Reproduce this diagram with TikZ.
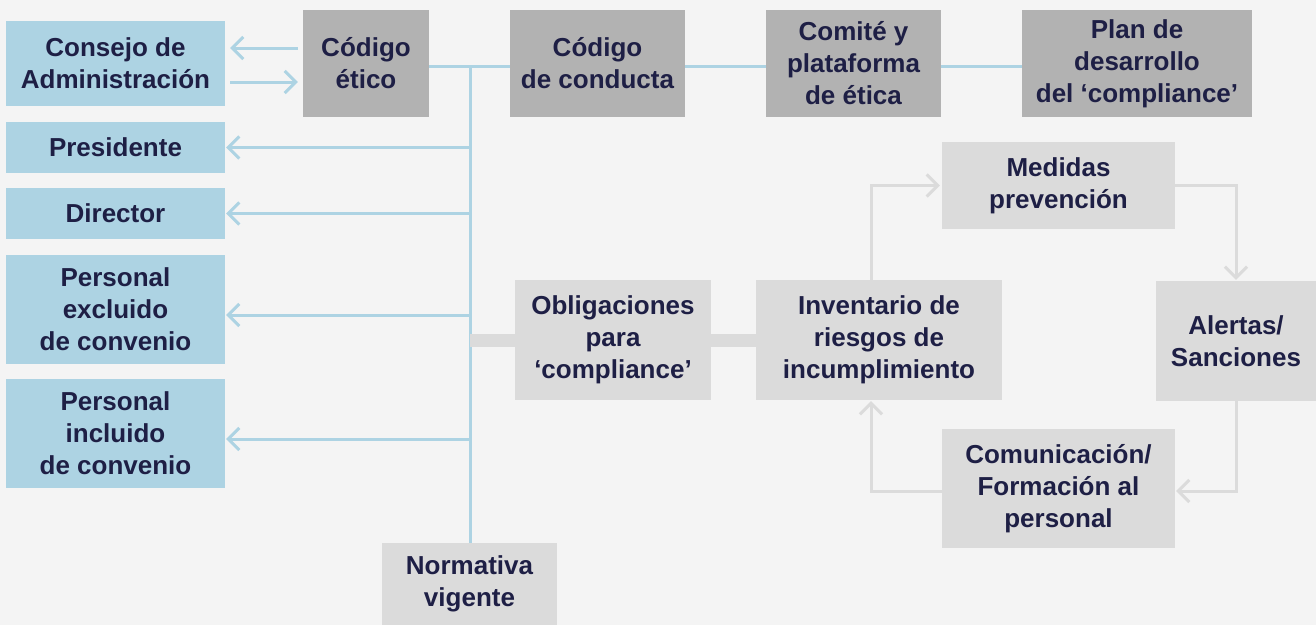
\documentclass[tikz,border=0pt]{standalone}
\usepackage{fontspec}
\setmainfont{Liberation Sans}
\usetikzlibrary{arrows.meta, positioning}
\definecolor{fondo}{HTML}{F4F4F4}
\definecolor{azul}{HTML}{ADD3E3}
\definecolor{gris}{HTML}{B2B2B2}
\definecolor{grisc}{HTML}{DBDBDB}
\definecolor{tinta}{HTML}{1E1F45}

\begin{document}
\begin{tikzpicture}[x=1pt, y=-1pt,
  every node/.style={font=\fontsize{26}{32}\selectfont\bfseries, text=tinta, align=center, inner sep=0pt},
  azulbox/.style={fill=azul, minimum width=219pt},
  oscbox/.style={fill=gris, minimum height=107pt},
  clarobox/.style={fill=grisc},
  bline/.style={draw=azul, line width=3pt},
  cline/.style={draw=grisc, line width=3pt},
  gbar/.style={draw=grisc, line width=13pt},
  flecha/.style={-{Straight Barb[length=11pt, width=22pt]}}]
  \useasboundingbox (0,0) rectangle (1316,625);
  \fill[fondo] (0,0) rectangle (1316,625);

  % columna izquierda
  \node[azulbox, minimum height=85pt] (consejo) at (115.5,63.5) {Consejo de\\Administración};
  \node[azulbox, minimum height=51pt] (presidente) at (115.5,147.5) {Presidente};
  \node[azulbox, minimum height=51pt] (director) at (115.5,213.5) {Director};
  \node[azulbox, minimum height=109pt] (excluido) at (115.5,309.5) {Personal\\excluido\\de convenio};
  \node[azulbox, minimum height=109pt] (incluido) at (115.5,433.5) {Personal\\incluido\\de convenio};

  % fila superior
  \node[oscbox, minimum width=126pt] (etico) at (366,63.5) {Código\\ético};
  \node[oscbox, minimum width=175pt] (conducta) at (597.5,63.5) {Código\\de conducta};
  \node[oscbox, minimum width=175pt] (comite) at (853.5,63.5) {Comité y\\plataforma\\de ética};
  \node[oscbox, minimum width=230pt] (plan) at (1137,63.5) {Plan de\\desarrollo\\del ‘compliance’};

  % ciclo
  \node[clarobox, minimum width=196pt, minimum height=120pt] (oblig) at (613,340) {Obligaciones\\para\\‘compliance’};
  \node[clarobox, minimum width=246pt, minimum height=120pt] (invent) at (879,340) {Inventario de\\riesgos de\\incumplimiento};
  \node[clarobox, minimum width=233pt, minimum height=87pt] (medidas) at (1058.5,185.5) {Medidas\\prevención};
  \node[clarobox, minimum width=160pt, minimum height=120pt] (alertas) at (1236,341) {Alertas/\\Sanciones};
  \node[clarobox, minimum width=233pt, minimum height=119pt] (comunic) at (1058.5,488.5) {Comunicación/\\Formación al\\personal};
  \node[clarobox, minimum width=175pt, minimum height=82pt] (normativa) at (469.5,584) {Normativa\\vigente};

  \coordinate (trunk) at (470,66);
  \draw[bline] (trunk) -- (trunk |- normativa.north);
  \foreach \a/\b in {etico/conducta, conducta/comite, comite/plan}
    \draw[bline] (\a.east |- trunk) -- (\b.west |- trunk);
  \draw[bline, flecha, shorten <=5pt, shorten >=5pt] (etico.west |- 0,48) -- (consejo.east |- 0,48);
  \draw[bline, flecha, shorten <=5pt, shorten >=5pt] (consejo.east |- 0,82) -- (etico.west |- 0,82);
  \foreach \n/\y in {presidente/147.5, director/213.5, excluido/315, incluido/439}
    \draw[bline, flecha, shorten >=1pt] (trunk |- 0,\y) -- (\n.east |- 0,\y);

  \draw[gbar] (trunk |- oblig.west) -- (oblig.west);
  \draw[gbar] (oblig.east) -- (invent.west);

  \draw[cline, flecha, shorten >=2pt] ([xshift=-8pt]invent.north) |- (medidas.west);
  \draw[cline, flecha, shorten >=1pt] (medidas.east) -| (alertas.north);
  \draw[cline, flecha, shorten >=1pt] (alertas.south) |- ([yshift=-2.5pt]comunic.east);
  \draw[cline, flecha, shorten >=1pt] ([yshift=-2.5pt]comunic.west) -| ([xshift=-8pt]invent.south);
\end{tikzpicture}
\end{document}
